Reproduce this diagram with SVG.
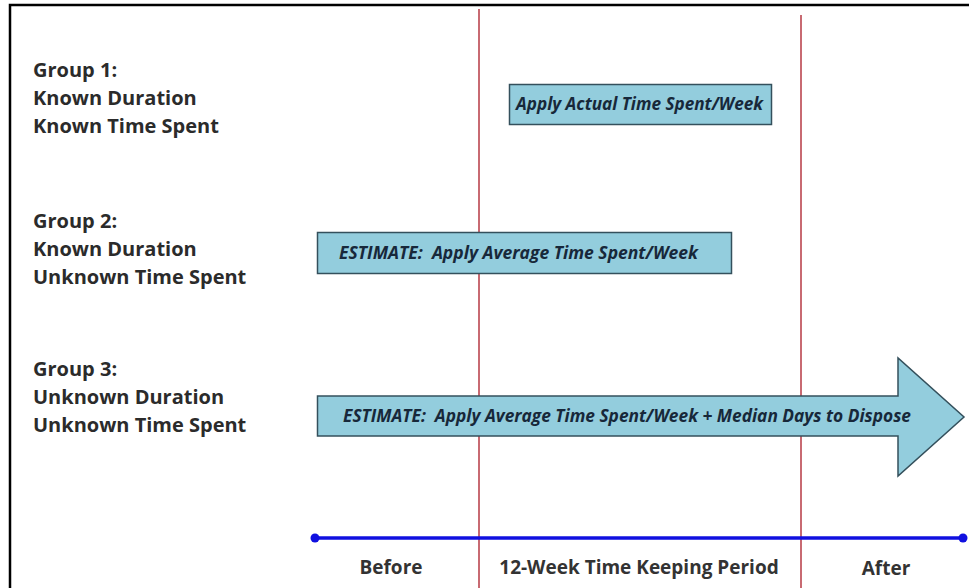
<svg xmlns="http://www.w3.org/2000/svg" width="969" height="588" viewBox="0 0 969 588">
<style>
.grp{font-family:"Open Sans","Liberation Sans",sans-serif;font-weight:700;font-size:20px;fill:#2b2b2b}
.box{fill:#93CDDD;stroke:#34505c;stroke-width:1.5}
.bt{font-family:"Open Sans","Liberation Sans",sans-serif;font-weight:700;font-style:italic;font-size:17px;fill:#17283a}
.red{stroke:#c86a72;stroke-width:2}
.lbl{font-family:"Open Sans","Liberation Sans",sans-serif;font-weight:700;font-size:19px;fill:#333;text-anchor:middle}
</style>
<rect width="969" height="588" fill="#fff"/>
<path d="M10,588 V5 H969" fill="none" stroke="#000" stroke-width="2.5"/>
<g id="connectors">
<line class="red" x1="479" y1="9" x2="479" y2="588"/>
<line class="red" x1="801" y1="15" x2="801" y2="588"/>
<line x1="315" y1="538" x2="963" y2="538" stroke="#1010e0" stroke-width="3.5"/>
<circle cx="315" cy="538" r="4.5" fill="#1010e0"/>
<circle cx="963" cy="538" r="4.5" fill="#1010e0"/>
</g>
<g id="group1">
<text class="grp" x="33" y="77">Group 1:</text>
<text class="grp" x="33" y="105">Known Duration</text>
<text class="grp" x="33" y="133">Known Time Spent</text>
</g>
<g id="group2">
<text class="grp" x="33" y="228">Group 2:</text>
<text class="grp" x="33" y="256">Known Duration</text>
<text class="grp" x="33" y="284">Unknown Time Spent</text>
</g>
<g id="group3">
<text class="grp" x="33" y="376">Group 3:</text>
<text class="grp" x="33" y="404">Unknown Duration</text>
<text class="grp" x="33" y="432">Unknown Time Spent</text>
</g>
<g id="box1">
<rect class="box" x="509.5" y="84.5" width="262" height="40"/>
<text class="bt" x="516" y="110" textLength="247" lengthAdjust="spacingAndGlyphs">Apply Actual Time Spent/Week</text>
</g>
<g id="box2">
<rect class="box" x="317.5" y="232.5" width="414" height="41"/>
<text class="bt" x="339" y="259" xml:space="preserve" textLength="359" lengthAdjust="spacingAndGlyphs">ESTIMATE:  Apply Average Time Spent/Week</text>
</g>
<g id="arrow3">
<path class="box" d="M317.5,396 H898 V358 L964,417 L898,476 V436 H317.5 Z"/>
<text class="bt" x="343" y="422" xml:space="preserve" textLength="568" lengthAdjust="spacingAndGlyphs">ESTIMATE:  Apply Average Time Spent/Week + Median Days to Dispose</text>
</g>
<g id="axis-labels">
<text class="lbl" x="391" y="574">Before</text>
<text class="lbl" x="639" y="574">12-Week Time Keeping Period</text>
<text class="lbl" x="886" y="575">After</text>
</g>
</svg>
